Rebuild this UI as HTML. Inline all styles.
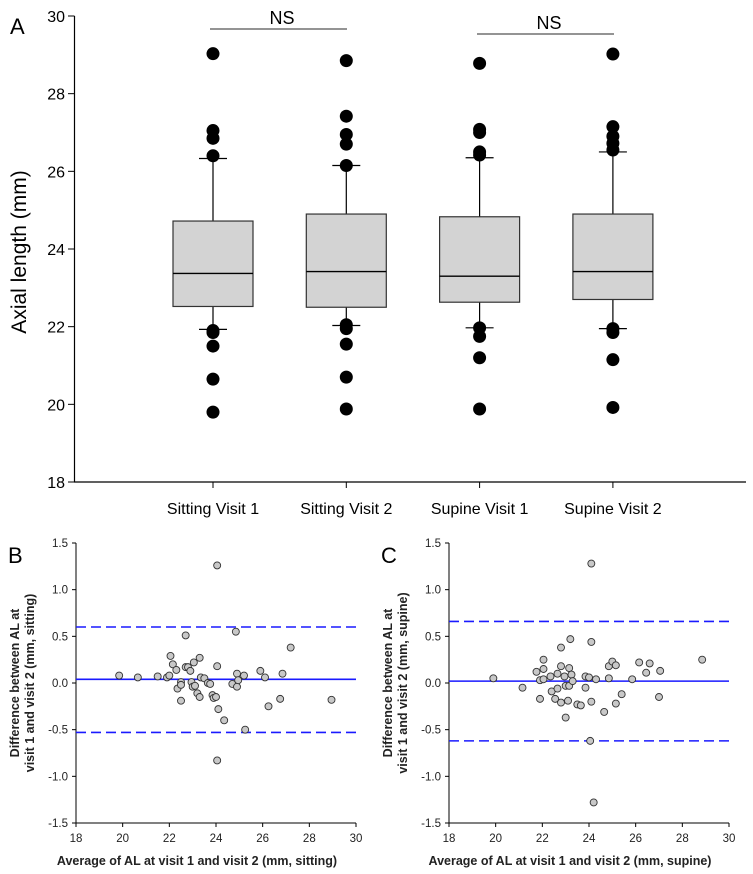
<!DOCTYPE html>
<html><head><meta charset="utf-8"><style>
html,body{margin:0;padding:0;background:#fff;}
svg{display:block;font-family:"Liberation Sans",Arial,sans-serif;}
</style></head><body>
<svg id="fig" width="753" height="874" viewBox="0 0 753 874"></svg>
<script>
// ---- Panel A data ----
const boxCategories = ["Sitting Visit 1","Sitting Visit 2","Supine Visit 1","Supine Visit 2"];
const boxQ1 = [22.52,22.50,22.63,22.70];
const boxMedian = [23.37,23.42,23.30,23.42];
const boxQ3 = [24.72,24.90,24.83,24.90];
const whiskerLow = [21.93,22.03,21.97,21.95];
const whiskerHigh = [26.33,26.15,26.35,26.50];
const outliers = [
  [29.03,27.05,26.85,26.40,21.90,21.85,21.50,20.65,19.80],
  [28.85,27.42,26.95,26.70,26.15,22.05,21.95,21.55,20.70,19.88],
  [28.78,27.08,27.00,26.50,26.42,21.97,21.75,21.20,19.88],
  [29.02,27.15,26.90,26.72,26.55,21.95,21.85,21.15,19.92]
];
const yTicksA = [18,20,22,24,26,28,30];
// ---- Panel B data ----
const bX = [19.85,20.65,21.5,21.9,22.0,22.05,22.15,22.3,22.35,22.5,22.5,22.5,22.7,22.7,22.8,22.9,22.95,23.0,23.05,23.1,23.2,23.3,23.3,23.35,23.5,23.65,23.75,23.85,23.9,24.0,24.05,24.05,24.1,24.05,24.35,24.7,24.85,24.9,24.9,24.95,25.2,25.25,25.9,26.1,26.25,26.75,26.85,27.2,28.95];
const bY = [0.08,0.06,0.07,0.06,0.08,0.29,0.2,0.14,-0.06,0.01,-0.02,-0.19,0.51,0.17,0.17,0.13,0.01,-0.04,0.22,-0.03,-0.11,0.27,-0.15,0.06,0.05,0.0,-0.01,-0.13,-0.16,-0.15,0.18,1.26,-0.28,-0.83,-0.4,-0.01,0.55,0.1,-0.04,0.03,0.08,-0.5,0.13,0.06,-0.25,-0.17,0.1,0.38,-0.18];
const bLines = [0.60,0.04,-0.53];
// ---- Panel C data ----
const cX = [19.9,21.15,21.75,21.9,21.9,22.05,22.05,22.05,22.35,22.4,22.55,22.65,22.65,22.8,22.8,22.8,22.95,23.0,23.0,23.1,23.15,23.15,23.2,23.25,23.3,23.5,23.65,23.85,23.85,24.0,24.05,24.1,24.1,24.1,24.2,24.3,24.65,24.85,24.85,25.0,25.15,25.15,25.4,25.85,26.15,26.45,26.6,27.0,27.05,28.85];
const cY = [0.05,-0.05,0.12,0.03,-0.17,0.25,0.15,0.04,0.07,-0.09,-0.17,0.1,-0.06,0.38,0.18,-0.21,0.07,-0.03,-0.37,-0.19,0.16,-0.03,0.47,0.09,0.02,-0.23,-0.24,0.07,-0.05,0.06,-0.62,1.28,0.44,-0.2,-1.28,0.04,-0.31,0.18,0.05,0.23,0.19,-0.22,-0.12,0.04,0.22,0.11,0.21,-0.15,0.13,0.25];
const cLines = [0.66,0.02,-0.62];
const baXTicks = [18,20,22,24,26,28,30];
const baYTicks = [-1.5,-1.0,-0.5,0.0,0.5,1.0,1.5];

const NS="http://www.w3.org/2000/svg";
const svg=document.getElementById('fig');
function mk(tag,attrs,parent,text){const e=document.createElementNS(NS,tag);for(const k in attrs)e.setAttribute(k,attrs[k]);if(text!==undefined)e.textContent=text;(parent||svg).appendChild(e);return e;}

// ===== Panel A =====
const gA=mk('g',{});


const yA=v=>482-(v-18)*(482-16)/12;
const xA=i=>213+i*133.3;
mk('line',{x1:74.5,y1:16,x2:74.5,y2:482,stroke:'#000','stroke-width':1.2},gA);
mk('line',{x1:74,y1:482,x2:746,y2:482,stroke:'#000','stroke-width':1.2},gA);
yTicksA.forEach(v=>{
  const y=yA(v);
  const l=mk('line',{x1:68,y1:y,x2:74.5,y2:y,stroke:'#000'},gA);
  
  
  const t=mk('text',{x:65,y:y+6,'text-anchor':'end','font-size':16},gA,String(v));
  
  
});
const yl=mk('text',{x:0,y:0,transform:'translate(26,252) rotate(-90)','text-anchor':'middle','font-size':21},gA,'Axial length (mm)');


const la=mk('text',{x:10,y:34,'font-size':22},gA,'A');


boxCategories.forEach((c,i)=>{
  const x=xA(i),w=40;
  const g=mk('g',{},gA);
  
  
  mk('line',{x1:x,y1:yA(whiskerHigh[i]),x2:x,y2:yA(whiskerLow[i]),stroke:'#000','stroke-width':1.2},g);
  mk('line',{x1:x-14,y1:yA(whiskerHigh[i]),x2:x+14,y2:yA(whiskerHigh[i]),stroke:'#000','stroke-width':1.2},g);
  mk('line',{x1:x-14,y1:yA(whiskerLow[i]),x2:x+14,y2:yA(whiskerLow[i]),stroke:'#000','stroke-width':1.2},g);
  mk('rect',{x:x-w,y:yA(boxQ3[i]),width:2*w,height:yA(boxQ1[i])-yA(boxQ3[i]),fill:'#d3d3d3',stroke:'#333','stroke-width':1.2},g);
  mk('line',{x1:x-w,y1:yA(boxMedian[i]),x2:x+w,y2:yA(boxMedian[i]),stroke:'#000','stroke-width':1.4},g);
  outliers[i].forEach(v=>{
    const d=mk('circle',{cx:x,cy:yA(v),r:6.5,fill:'#000'},g);
    
    
  });
  mk('line',{x1:x,y1:482,x2:x,y2:488,stroke:'#000'},g);
  const t=mk('text',{x:x,y:514,'text-anchor':'middle','font-size':16},g,c);
  
  
});
[[210,347,29,282,24],[477,614,34,549,29]].forEach(a=>{
  const g=mk('g',{},gA);
  
  
  mk('line',{x1:a[0],y1:a[2],x2:a[1],y2:a[2],stroke:'#555','stroke-width':1.2},g);
  mk('text',{x:a[3],y:a[4],'text-anchor':'middle','font-size':18},g,'NS');
});

// ===== Bland-Altman panels =====
function baPanel(ox,label,xs,ys,lines,cond){
  const g=mk('g',{});
  
  
  const x0=ox,x1=ox+280,yt=543,yb=823;
  const sx=v=>x0+(v-18)*(x1-x0)/12;
  const sy=v=>yb-(v+1.5)*(yb-yt)/3;
  mk('line',{x1:x0,y1:yt,x2:x0,y2:yb,stroke:'#000'},g);
  mk('line',{x1:x0,y1:yb,x2:x1,y2:yb,stroke:'#000'},g);
  baYTicks.forEach(v=>{
    mk('line',{x1:x0-4,y1:sy(v),x2:x0,y2:sy(v),stroke:'#000'},g);
    const t=mk('text',{x:x0-8,y:sy(v)+4,'text-anchor':'end','font-size':11.5,fill:'#222'},g,v.toFixed(1));
    
    
  });
  baXTicks.forEach(v=>{
    mk('line',{x1:sx(v),y1:yb,x2:sx(v),y2:yb+4,stroke:'#000'},g);
    const t=mk('text',{x:sx(v),y:yb+19,'text-anchor':'middle','font-size':11.5,fill:'#222'},g,String(v));
    
    
  });
  lines.forEach((v,i)=>{
    const l=mk('line',{x1:x0,y1:sy(v),x2:x1,y2:sy(v),stroke:'#1a1aff','stroke-width':1.6},g);
    if(i!==1)l.setAttribute('stroke-dasharray','10,5');
    
    
  });
  xs.forEach((v,i)=>{
    const c=mk('circle',{cx:sx(v),cy:sy(ys[i]),r:3.5,fill:'#c8c8c8',stroke:'#333','stroke-width':0.9},g);
    
    
  });
  const lb=mk('text',{x:ox-68,y:563,'font-size':22},g,label);
  
  
  const xt=mk('text',{x:ox+121,y:865,'text-anchor':'middle','font-size':12.5,'font-weight':'bold',fill:'#222'},g,'Average of AL at visit 1 and visit 2 (mm, '+cond+')');
  
  
  const yt1=mk('text',{transform:'translate('+(ox-57)+',683) rotate(-90)','text-anchor':'middle','font-size':12.5,'font-weight':'bold',fill:'#222'},g);
  
  
  mk('tspan',{x:0,y:0},yt1,'Difference between AL at');
  mk('tspan',{x:0,y:15},yt1,'visit 1 and visit 2 (mm, '+cond+')');
}
baPanel(76,'B',bX,bY,bLines,'sitting');
baPanel(449,'C',cX,cY,cLines,'supine');
</script>
</body></html>
